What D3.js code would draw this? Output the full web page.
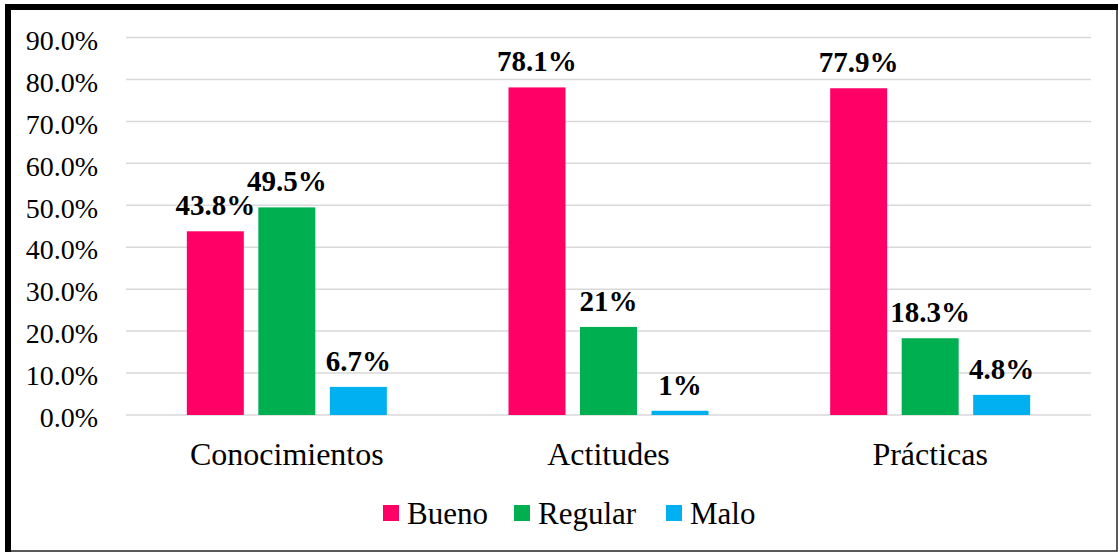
<!DOCTYPE html>
<html>
<head>
<meta charset="utf-8">
<script src="https://cdn.jsdelivr.net/npm/d3@7"></script>
<style>
    body { margin: 0; background: #fff; }
</style>
</head>
<body>
<svg id="chart" width="1118" height="553"></svg>
<script>
'use strict';

var categories = ['Conocimientos', 'Actitudes', 'Prácticas'];
var series = ['Bueno', 'Regular', 'Malo'];
var colors = ['#FF0066', '#00B050', '#00B0F0'];
var bueno = [43.8, 78.1, 77.9];
var regular = [49.5, 21, 18.3];
var malo = [6.7, 1, 4.8];
var yTicks = [0, 10, 20, 30, 40, 50, 60, 70, 80, 90];

var values = [bueno, regular, malo];
var FONT = "'Liberation Serif', 'Times New Roman', Times, serif";

var svg = d3.select('#chart')
    .style('font-family', FONT);

// frame
svg.append('rect')
    .attr('x', 7).attr('y', 7)
    .attr('width', 1110).attr('height', 544)
    .attr('fill', 'none')
    .attr('stroke', '#222')
    .attr('stroke-width', 1.5);
svg.append('rect')
    .attr('x', 5).attr('y', 4)
    .attr('width', 6).attr('height', 548)
    .attr('fill', '#000');
svg.append('rect')
    .attr('x', 5).attr('y', 4)
    .attr('width', 1113).attr('height', 6)
    .attr('fill', '#000');

var left = 126, right = 1091;

var x0 = d3.scaleBand()
    .domain(categories)
    .range([left, right]);

var y = d3.scaleLinear()
    .domain([0, 90])
    .range([415, 37.5]);

// grid
svg.append('g')
    .selectAll('line')
    .data(yTicks)
    .enter().append('line')
        .attr('x1', left)
        .attr('x2', right)
        .attr('y1', function (d) { return y(d); })
        .attr('y2', function (d) { return y(d); })
        .attr('stroke', '#d9d9d9')
        .attr('stroke-width', 1.5);

// y axis labels
var yAxis = d3.axisLeft(y)
    .tickValues(yTicks)
    .tickSize(0)
    .tickPadding(0)
    .tickFormat(function (d) { return d3.format('.1f')(d) + '%'; });

var yg = svg.append('g')
    .attr('transform', 'translate(98,0)')
    .call(yAxis)
    .attr('font-family', null)
    .attr('font-size', null);
yg.select('.domain').remove();
yg.selectAll('text')
    .style('font-family', FONT)
    .style('font-size', '28px')
    .attr('fill', '#000')
    .attr('dy', '0.42em');

// bars
var groups = svg.append('g')
    .selectAll('g')
    .data(categories)
    .enter().append('g');

groups.each(function (cat, ci) {
    var c = x0(cat) + x0.bandwidth() / 2;
    var x1 = d3.scaleBand()
        .domain(series)
        .range([c - 100, c + 100])
        .paddingInner(0.203);

    var rows = series.map(function (s, si) {
        return { series: s, value: values[si][ci], color: colors[si] };
    });

    var g = d3.select(this);

    g.selectAll('rect')
        .data(rows)
        .enter().append('rect')
            .attr('x', function (d) { return x1(d.series); })
            .attr('y', function (d) { return y(d.value); })
            .attr('width', x1.bandwidth())
            .attr('height', function (d) { return y(0) - y(d.value); })
            .attr('fill', function (d) { return d.color; });

    g.selectAll('text.val')
        .data(rows)
        .enter().append('text')
            .attr('class', 'val')
            .attr('x', function (d) { return x1(d.series) + x1.bandwidth() / 2; })
            .attr('y', function (d) { return y(d.value) - 16; })
            .attr('text-anchor', 'middle')
            .style('font-family', FONT)
            .style('font-size', '29px')
            .style('font-weight', 'bold')
            .text(function (d) { return d.value + '%'; });
});

// category labels
svg.append('g')
    .selectAll('text')
    .data(categories)
    .enter().append('text')
        .attr('x', function (d) { return x0(d) + x0.bandwidth() / 2; })
        .attr('y', 465)
        .attr('text-anchor', 'middle')
        .style('font-family', FONT)
        .style('font-size', '32px')
        .text(function (d) { return d; });

// legend
var legendX = [383, 514, 666];
var legend = svg.append('g')
    .selectAll('g')
    .data(series)
    .enter().append('g')
        .attr('transform', function (d, i) { return 'translate(' + legendX[i] + ',0)'; });

legend.append('rect')
    .attr('x', 0).attr('y', 505)
    .attr('width', 16).attr('height', 16)
    .attr('fill', function (d, i) { return colors[i]; });

legend.append('text')
    .attr('x', 24)
    .attr('y', 524)
    .style('font-family', FONT)
    .style('font-size', '31px')
    .text(function (d) { return d; });
</script>
</body>
</html>
